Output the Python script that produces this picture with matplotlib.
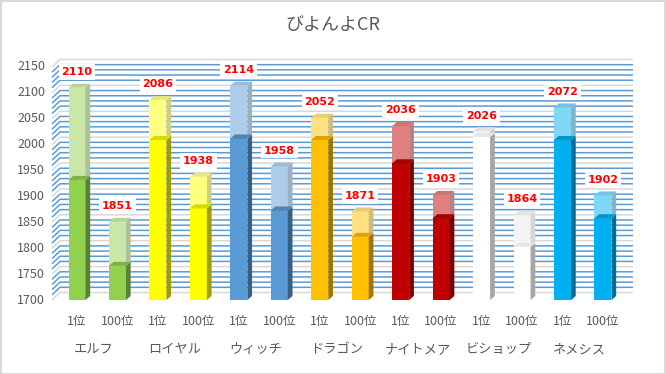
import matplotlib
matplotlib.use("Agg")
import matplotlib.pyplot as plt
from matplotlib.patches import Polygon, Rectangle
from matplotlib.colors import to_rgb

plt.rcParams['font.family'] = ['Noto Sans CJK JP', 'DejaVu Sans']

# ---- data ----
classes = ['エルフ', 'ロイヤル', 'ウィッチ', 'ドラゴン', 'ナイトメア', 'ビショップ', 'ネメシス']
ranks = ['1位', '100位']
totals = [2110, 1851, 2086, 1938, 2114, 1958, 2052, 1871, 2036, 1903, 2026, 1864, 2072, 1902]
lower = [1932, 1766, 2009, 1877, 2012, 1873, 2009, 1822, 1964, 1858, 2015, 1803, 2009, 1858]
class_colors = ['#92D050', '#FFFF00', '#5B9BD5', '#FFC000', '#C00000', '#FFFFFF', '#00B0F0']
y_ticks = list(range(1700, 2151, 50))
title = 'びよんよCR'

W, H = 666, 374
fig = plt.figure(figsize=(W / 100, H / 100), dpi=100)
fig.patch.set_facecolor('white')
fig.add_artist(Rectangle((0.5 / W, 0.5 / H), 1 - 1.5 / W, 1 - 1.5 / H, transform=fig.transFigure,
                         fill=False, edgecolor='#D9D9D9', lw=1.5))

ax_left_px, ax_right_px, ax_top_px, ax_bot_px = 52, 625, 67, 300
ax = fig.add_axes([ax_left_px / W, (H - ax_bot_px) / H, (ax_right_px - ax_left_px) / W,
                   (ax_bot_px - ax_top_px) / H])
pxx = 40.46                      # pixels per category
pxy = (ax_bot_px - ax_top_px) / 450.0  # pixels per value unit
x0 = -(77 - ax_left_px) / pxx
ax.set_xlim(x0, x0 + (ax_right_px - ax_left_px) / pxx)
ax.set_ylim(1700, 2150)
ax.axis('off')

# ---- back wall grid with 3D slant ----
gdx, gdy = 8 / pxx, 7.5 / pxy
xl = ax.get_xlim()[0]
xr = ax.get_xlim()[1] + gdx
for v in range(1700, 2151, 10):
    col = '#D9D9D9' if v % 50 == 0 else '#5B9BD5'
    ax.plot([xl, xl + gdx, xr], [v, v + gdy, v + gdy], color=col, lw=1.1,
            clip_on=False, zorder=1, solid_capstyle='butt')

def shade(c, f):
    r, g, b = to_rgb(c)
    return (r * f, g * f, b * f)

def tint(c, f):
    r, g, b = to_rgb(c)
    return (r + (1 - r) * f, g + (1 - g) * f, b + (1 - b) * f)

w = 17 / pxx
dxb, dyb = 4.7 / pxx, 4.0 / pxy

def box(c, y0, y1, front, side, top, z):
    ax.add_patch(Polygon([(c - w / 2, y0), (c + w / 2, y0), (c + w / 2, y1), (c - w / 2, y1)],
                         closed=True, facecolor=front, edgecolor='none', zorder=z, clip_on=False))
    ax.add_patch(Polygon([(c + w / 2, y0), (c + w / 2 + dxb, y0 + dyb), (c + w / 2 + dxb, y1 + dyb),
                          (c + w / 2, y1)], closed=True, facecolor=side, edgecolor='none', zorder=z,
                         clip_on=False))
    ax.add_patch(Polygon([(c - w / 2, y1), (c + w / 2, y1), (c + w / 2 + dxb, y1 + dyb),
                          (c - w / 2 + dxb, y1 + dyb)], closed=True, facecolor=top, edgecolor='none',
                         zorder=z + 0.5, clip_on=False))

for i, (tot, low) in enumerate(zip(totals, lower)):
    col = class_colors[i // 2]
    if col.upper() == '#FFFFFF':
        f_lo, s_lo, t_lo = '#FFFFFF', '#A6A6A6', '#E6E6E6'
        f_up, s_up, t_up = '#F4F4F4', '#D6D6D6', '#E2E2E2'
    else:
        f_lo, s_lo, t_lo = col, shade(col, 0.62), shade(col, 0.85)
        f_up, s_up, t_up = tint(col, 0.5), tint(shade(col, 0.62), 0.5), tint(shade(col, 0.85), 0.45)
    box(i, 1700, low, f_lo, s_lo, t_lo, 3)
    box(i, low, tot, f_up, s_up, t_up, 4)
    # lower top face visible through the upper section
    ax.add_patch(Polygon([(i - w / 2, low), (i + w / 2, low), (i + w / 2 + dxb, low + dyb),
                          (i - w / 2 + dxb, low + dyb)], closed=True, facecolor=t_lo,
                         edgecolor='none', zorder=5, clip_on=False))
    ax.text(i, tot + 15.7 / pxy, str(tot), ha='center', va='center', color='#FF0000',
            fontsize=8, fontweight='bold', family=['DejaVu Sans'], zorder=6,
            bbox=dict(boxstyle='square,pad=0.25', facecolor='white', edgecolor='none'))

# ---- y tick labels ----
for v in y_ticks:
    ax.text(xl - 7 / pxx, v, str(v), ha='right', va='center', fontsize=9, color='#595959')

# ---- category labels ----
xt = ax.get_xaxis_transform()
for i in range(len(totals)):
    ax.text(i, -21 / (ax_bot_px - ax_top_px), ranks[i % 2], transform=xt, ha='center', va='center',
            fontsize=9, color='#595959')
for k, name in enumerate(classes):
    ax.text(2 * k + 0.5 - 0.08, -50 / (ax_bot_px - ax_top_px), name, transform=xt, ha='center',
            va='center', fontsize=9.5, color='#595959')

fig.text(0.5, 1 - 25 / H, title, ha='center', va='center', fontsize=13, color='#595959')

fig.savefig('out.png', dpi=100)
